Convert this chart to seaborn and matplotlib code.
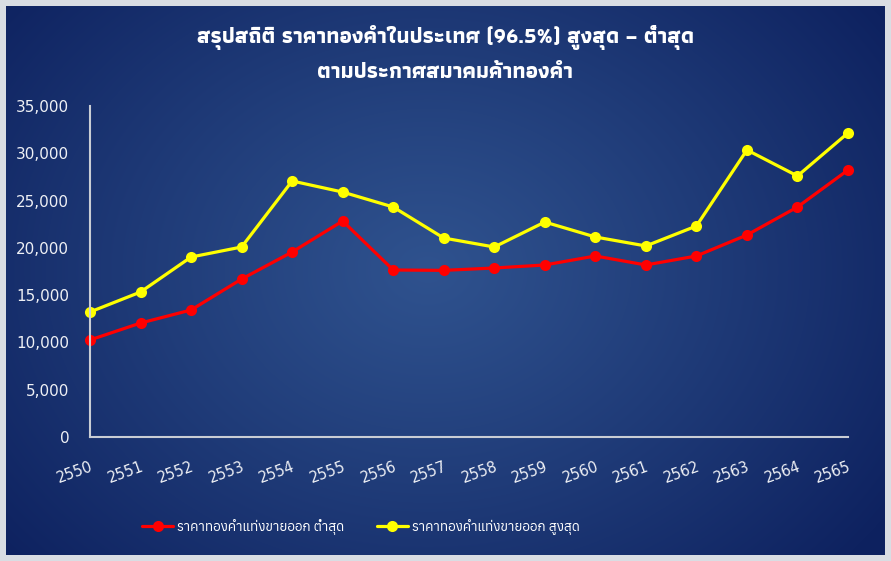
import numpy as np
import pandas as pd
import matplotlib
matplotlib.use("Agg")
import matplotlib.pyplot as plt
import matplotlib.transforms as mtransforms
import seaborn as sns

years = ["2550", "2551", "2552", "2553", "2554", "2555", "2556", "2557",
         "2558", "2559", "2560", "2561", "2562", "2563", "2564", "2565"]
low_values = [10260, 12050, 13430, 16700, 19560, 22840, 17660, 17620,
              17870, 18190, 19140, 18190, 19140, 21360, 24320, 28230]
high_values = [13220, 15330, 19030, 20090, 27070, 25900, 24320, 21040,
               20090, 22730, 21150, 20200, 22310, 30350, 27600, 32150]
series_low = "ราคาทองคำแท่งขายออก ต่ำสุด"
series_high = "ราคาทองคำแท่งขายออก สูงสุด"
title_lines = ["สรุปสถิติ ราคาทองคำในประเทศ (96.5%) สูงสุด – ต่ำสุด",
               "ตามประกาศสมาคมค้าทองคำ"]
y_ticks = [0, 5000, 10000, 15000, 20000, 25000, 30000, 35000]

sns.set_theme(style="white")
THAI_TITLE = ["Athiti", "DejaVu Sans"]
THAI_LEG = ["Anuphan", "Athiti", "DejaVu Sans"]
plt.rcParams["font.family"] = THAI_TITLE

df = pd.DataFrame({
    "year": years * 2,
    "price": low_values + high_values,
    "series": [series_low] * len(years) + [series_high] * len(years),
})
df["x"] = df["year"].map({y: i for i, y in enumerate(years)})

W, H = 891, 561
fig = plt.figure(figsize=(W / 100, H / 100), dpi=100)

# background: light border + radial gradient
bg = fig.add_axes([0, 0, 1, 1])
bg.set_axis_off()
yy, xx = np.mgrid[0:H, 0:W]
cx, cy = W * 0.48, H * 0.48
r = np.sqrt(((xx - cx) / (W * 0.62)) ** 2 + ((yy - cy) / (H * 0.78)) ** 2)
r = np.clip(r, 0, 1) ** 1.1
c_in = np.array([47, 82, 142]) / 255
c_out = np.array([14, 34, 96]) / 255
img = c_in[None, None, :] * (1 - r[..., None]) + c_out[None, None, :] * r[..., None]
border = np.array([218, 222, 228]) / 255
b = 6
img[:b, :, :] = border
img[-b:, :, :] = border
img[:, :b, :] = border
img[:, -b:, :] = border
bg.imshow(img, aspect="auto", extent=(0, 1, 0, 1), origin="upper")
bg.set_xlim(0, 1)
bg.set_ylim(0, 1)

ax = fig.add_axes([90 / W, (H - 437) / H, (848 - 90) / W, (437 - 106) / H])
ax.patch.set_alpha(0)

sns.lineplot(data=df, x="x", y="price", hue="series",
             palette={series_low: "#ff0000", series_high: "#ffff00"},
             hue_order=[series_low, series_high],
             marker="o", markersize=8, markeredgewidth=0, linewidth=2.3,
             ax=ax, legend=True)
for ln in ax.lines:
    ln.set_clip_on(False)

ax.set_xlim(0, len(years) - 1)
ax.set_ylim(0, 35000)
ax.set_yticks(y_ticks)
ax.set_yticklabels([f"{v:,}" for v in y_ticks], fontsize=11, color="#eef0f5",
                   family="DejaVu Sans")
ax.set_xticks(range(len(years)))
ax.set_xticklabels(years, fontsize=10.5, color="#eef0f5", rotation=20,
                   ha="right", rotation_mode="anchor", family="DejaVu Sans")
offset = mtransforms.ScaledTranslation(-5 / 100, 0, fig.dpi_scale_trans)
for lbl in ax.get_xticklabels():
    lbl.set_transform(lbl.get_transform() + offset)
ax.tick_params(axis="y", length=0, pad=15)
ax.tick_params(axis="x", length=0, pad=16)
ax.set_xlabel("")
ax.set_ylabel("")
for s in ["top", "right"]:
    ax.spines[s].set_visible(False)
for s in ["left", "bottom"]:
    ax.spines[s].set_color("#c9cdd4")
    ax.spines[s].set_linewidth(1.5)

leg = ax.legend(loc="center",
                bbox_to_anchor=((361 - 90) / (848 - 90), -(527 - 437) / (437 - 106)),
                ncol=2, frameon=False, handlelength=2.3,
                columnspacing=2.4, handletextpad=0.3,
                prop={"family": THAI_LEG, "size": 9.7})
for t in leg.get_texts():
    t.set_color("white")

fig.text(0.5, 1 - 38 / H, title_lines[0], ha="center", va="center",
         fontsize=15.6, fontweight="bold", color="white", family=THAI_TITLE)
fig.text(0.5, 1 - 73 / H, title_lines[1], ha="center", va="center",
         fontsize=15.6, fontweight="bold", color="white", family=THAI_TITLE)

fig.savefig("out.png", dpi=100)
